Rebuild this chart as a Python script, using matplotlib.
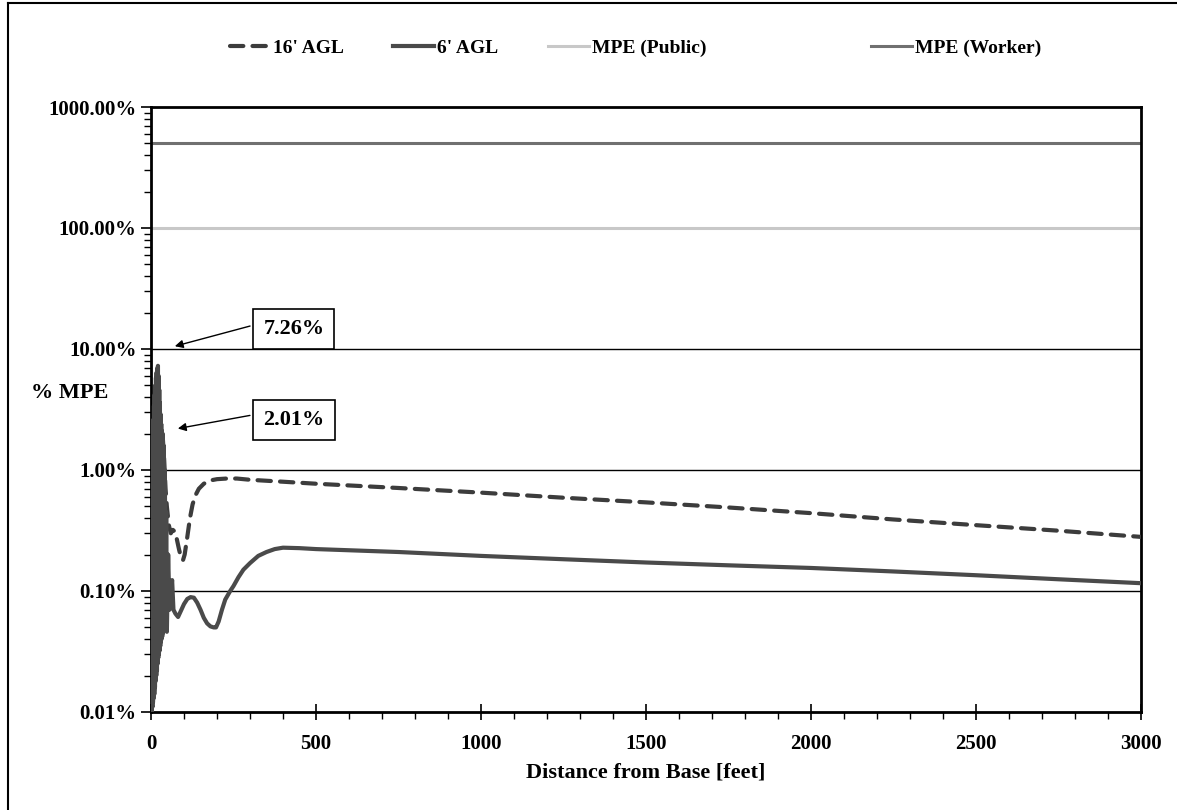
import numpy as np
import matplotlib
matplotlib.use('Agg')
import matplotlib.pyplot as plt
from matplotlib.lines import Line2D

plt.rcParams['font.family'] = ['Liberation Serif', 'DejaVu Serif']
plt.rcParams['font.weight'] = 'bold'

# distance [ft] and % MPE
dist_16 = [0, 1, 2, 3, 4, 5, 6, 7, 8, 9, 10, 11, 12, 13, 14, 15, 16, 17, 18, 19, 20,
           21, 22, 23, 24, 25, 26, 27, 28, 29, 30, 31, 32, 33, 34, 36, 40, 44, 48, 54,
           60, 66, 72, 78, 85, 92, 97, 102, 110, 118, 126, 135, 145, 160, 180, 200, 230,
           260, 300, 400, 500, 750, 1000, 1250, 1500, 1750, 2000, 2250, 2500, 2750, 3000]
mpe_16 = [0.01, 0.05, 0.01, 0.1, 0.011, 0.18, 0.012, 0.3, 0.013, 0.45, 0.015, 0.6, 0.018,
          0.8, 0.02, 1.0, 0.025, 1.2, 0.03, 1.4, 0.035, 1.5, 0.04, 1.6, 0.05, 1.7, 0.06,
          1.8, 0.07, 1.9, 0.08, 1.95, 0.1, 2.01, 0.15, 1.8, 1.2, 0.7, 0.5, 0.35,
          0.3, 0.32, 0.31, 0.27, 0.22, 0.185, 0.18, 0.2, 0.28, 0.4, 0.52, 0.62, 0.7, 0.77,
          0.82, 0.84, 0.85, 0.85, 0.83, 0.8, 0.77, 0.71, 0.65, 0.59, 0.54, 0.49, 0.44,
          0.39, 0.35, 0.315, 0.28]

dist_6 = [0, 1, 2, 3, 4, 5, 6, 7, 8, 9, 10, 11, 12, 13, 14, 15, 16, 17, 18, 19, 20,
          21, 22, 23, 24, 25, 26, 27, 28, 29, 30, 31, 32, 33, 34, 35, 36, 38, 40, 42,
          44, 46, 48, 52, 56, 60, 64, 68, 74, 82, 90, 100, 110, 120, 130, 140, 150, 160,
          170, 180, 190, 197, 205, 215, 225, 240, 250, 265, 280, 300, 325, 350, 375, 400,
          450, 500, 750, 1000, 1250, 1500, 1750, 2000, 2250, 2500, 2750, 3000]
mpe_6 = [0.01, 0.6, 0.01, 1.2, 0.011, 1.8, 0.012, 2.6, 0.013, 3.4, 0.014, 4.2, 0.016,
         5.0, 0.018, 5.8, 0.02, 6.4, 0.022, 6.9, 0.025, 7.26, 0.028, 6.0, 0.03, 4.6,
         0.032, 3.6, 0.035, 2.9, 0.038, 2.4, 0.04, 2.1, 0.042, 2.0, 0.045, 1.6, 0.048,
         1.0, 0.05, 0.45, 0.046, 0.2, 0.07, 0.1, 0.123, 0.07, 0.065, 0.061, 0.068, 0.078,
         0.086, 0.089, 0.088, 0.08, 0.07, 0.06, 0.054, 0.051, 0.05, 0.05, 0.056, 0.07,
         0.085, 0.1, 0.11, 0.13, 0.15, 0.17, 0.195, 0.21, 0.222, 0.228, 0.226, 0.222,
         0.21, 0.195, 0.183, 0.172, 0.163, 0.155, 0.145, 0.135, 0.125, 0.116]

mpe_public = 100.0
mpe_worker = 500.0

ytick_vals = [0.01, 0.1, 1, 10, 100, 1000]
ytick_labels = ['0.01%', '0.10%', '1.00%', '10.00%', '100.00%', '1000.00%']
xtick_vals = [0, 500, 1000, 1500, 2000, 2500, 3000]

fig = plt.figure(figsize=(11.77, 8.10), dpi=100)
ax = fig.add_axes([0.1283, 0.121, 0.8411, 0.7469])

# outer frame of the scanned chart
fig.add_artist(Line2D([0.0068, 0.0068], [0.0, 0.996], color='black', lw=1.5, transform=fig.transFigure))
fig.add_artist(Line2D([0.0068, 1.0], [0.996, 0.996], color='black', lw=1.5, transform=fig.transFigure))

for v in [0.1, 1, 10]:
    ax.axhline(v, color='black', lw=1.0, zorder=1)

lw_, = ax.plot([0, 3000], [mpe_worker, mpe_worker], color='#707070', lw=2.2, zorder=2)
lp, = ax.plot([0, 3000], [mpe_public, mpe_public], color='#c8c8c8', lw=2.2, zorder=2)
l16, = ax.plot(dist_16, mpe_16, color='#3c3c3c', lw=3.0, ls=(0, (3.2, 2.2)),
               dash_capstyle='round', zorder=3)
l6, = ax.plot(dist_6, mpe_6, color='#4a4a4a', lw=3.0, zorder=4)

ax.set_yscale('log')
ax.set_ylim(0.01, 1000)
ax.set_xlim(0, 3000)
ax.set_yticks(ytick_vals)
ax.set_yticklabels(ytick_labels)
ax.set_xticks(xtick_vals)
ax.set_xticks(np.arange(0, 3001, 100), minor=True)
ax.tick_params(axis='both', which='major', labelsize=15, length=7, width=1.2, direction='out')
ax.tick_params(axis='x', which='major', direction='inout', length=12, pad=10)
ax.tick_params(axis='both', which='minor', length=5, width=1.0, direction='out')
for s in ax.spines.values():
    s.set_linewidth(2.0)

ax.set_xlabel('Distance from Base [feet]', fontsize=16, fontweight='bold', labelpad=6)
ax.set_ylabel('% MPE', fontsize=16, fontweight='bold', rotation=0)
ax.yaxis.set_label_coords(-0.082, 0.511)

bbox = dict(boxstyle='square,pad=0.45', fc='white', ec='black', lw=1.2)
arrow = dict(arrowstyle='-|>', color='black', lw=1.0, mutation_scale=12, relpos=(0, 0.85))
ax.annotate('7.26%', xy=(64, 10.4), xytext=(433, 14.5), fontsize=16, fontweight='bold',
            ha='center', va='center', bbox=bbox, arrowprops=arrow)
ax.annotate('2.01%', xy=(73, 2.18), xytext=(433, 2.59), fontsize=16, fontweight='bold',
            ha='center', va='center', bbox=bbox, arrowprops=arrow)

# legend entries sit at uneven spacing in the original
entries = [(l16, "16' AGL", 0.195), (l6, "6' AGL", 0.334),
           (lp, 'MPE (Public)', 0.466), (lw_, 'MPE (Worker)', 0.74)]
for hnd, lab, xpos in entries:
    fig.legend([hnd], [lab], loc='center left', bbox_to_anchor=(xpos, 0.941),
               frameon=False, fontsize=14, handlelength=2.1, handletextpad=0.15,
               borderpad=0, borderaxespad=0)

plt.savefig('out.png', dpi=100)
